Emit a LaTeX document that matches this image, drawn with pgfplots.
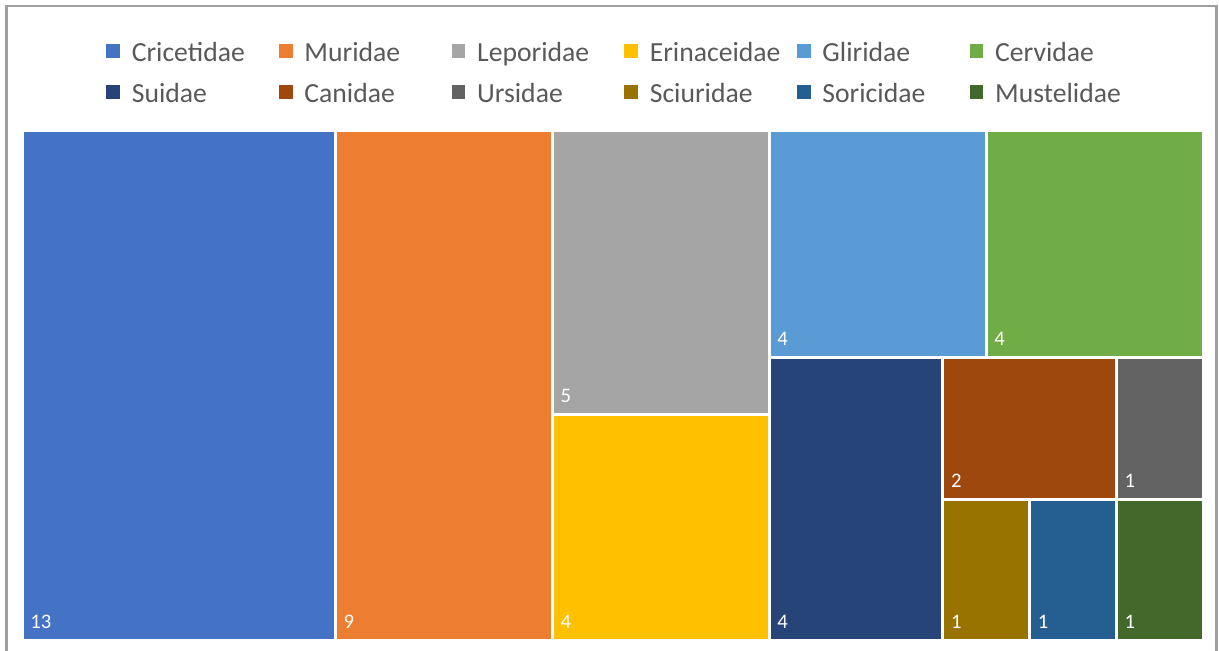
\documentclass[border=0pt]{standalone}
\usepackage{pgfplots}
\pgfplotsset{compat=1.18}
\usepackage{fontspec}
\setmainfont{Carlito}

\definecolor{cCri}{HTML}{4472C4}
\definecolor{cMur}{HTML}{ED7D31}
\definecolor{cLep}{HTML}{A5A5A5}
\definecolor{cEri}{HTML}{FFC000}
\definecolor{cGli}{HTML}{5B9BD5}
\definecolor{cCer}{HTML}{70AD47}
\definecolor{cSui}{HTML}{264478}
\definecolor{cCan}{HTML}{9E480E}
\definecolor{cUrs}{HTML}{636363}
\definecolor{cSci}{HTML}{997300}
\definecolor{cSor}{HTML}{255E91}
\definecolor{cMus}{HTML}{43682B}
\definecolor{legtext}{HTML}{595959}

% one px of the reference = 0.6pt
\begin{document}
\begin{tikzpicture}
\useasboundingbox (0,0) rectangle (731.4pt,390.6pt);
\draw[gray!75, line width=1.6pt] (3.9pt,-5pt) -- (3.9pt,387pt) -- (729.9pt,387pt) -- (729.9pt,-5pt);
\begin{axis}[
    at={(13.2pt,6pt)}, anchor=south west,
    scale only axis,
    width=708.6pt, height=306pt,
    xmin=0, xmax=1181, ymin=0, ymax=510,
    hide axis, clip=false,
    legend columns=6,
    legend cell align=left,
    legend image code/.code={
        \fill[#1, draw=none] (0pt,-1.4pt) rectangle (8.2pt,6.8pt);
        \path (14.4pt,0pt);
    },
    legend style={
        at={(0.510,1.038)}, anchor=south,
        draw=none, fill=none,
        font=\fontsize{16.6}{19}\selectfont,
        text=legtext,
        column sep=0pt, row sep=10.6pt,
        nodes={inner sep=0pt, text width=88.3pt, align=left,
               text height=11pt, text depth=3pt},
    },
]
\addplot[fill=cCri, draw=white, line width=1.8pt] coordinates {(0,0) (313.3,0) (313.3,510) (0,510)} --cycle;
\addplot[fill=cMur, draw=white, line width=1.8pt] coordinates {(313.3,0) (530.2,0) (530.2,510) (313.3,510)} --cycle;
\addplot[fill=cLep, draw=white, line width=1.8pt] coordinates {(530.2,226.7) (747.1,226.7) (747.1,510) (530.2,510)} --cycle;
\addplot[fill=cEri, draw=white, line width=1.8pt] coordinates {(530.2,0) (747.1,0) (747.1,226.7) (530.2,226.7)} --cycle;
\addplot[fill=cGli, draw=white, line width=1.8pt] coordinates {(747.1,283.3) (964.1,283.3) (964.1,510) (747.1,510)} --cycle;
\addplot[fill=cCer, draw=white, line width=1.8pt] coordinates {(964.1,283.3) (1181,283.3) (1181,510) (964.1,510)} --cycle;
\addplot[fill=cSui, draw=white, line width=1.8pt] coordinates {(747.1,0) (920.7,0) (920.7,283.3) (747.1,283.3)} --cycle;
\addplot[fill=cCan, draw=white, line width=1.8pt] coordinates {(920.7,141.7) (1094.2,141.7) (1094.2,283.3) (920.7,283.3)} --cycle;
\addplot[fill=cUrs, draw=white, line width=1.8pt] coordinates {(1094.2,141.7) (1181,141.7) (1181,283.3) (1094.2,283.3)} --cycle;
\addplot[fill=cSci, draw=white, line width=1.8pt] coordinates {(920.7,0) (1007.5,0) (1007.5,141.7) (920.7,141.7)} --cycle;
\addplot[fill=cSor, draw=white, line width=1.8pt] coordinates {(1007.5,0) (1094.2,0) (1094.2,141.7) (1007.5,141.7)} --cycle;
\addplot[fill=cMus, draw=white, line width=1.8pt] coordinates {(1094.2,0) (1181,0) (1181,141.7) (1094.2,141.7)} --cycle;
\legend{Cricetidae,Muridae,Leporidae,Erinaceidae,Gliridae,Cervidae,Suidae,Canidae,Ursidae,Sciuridae,Soricidae,Mustelidae}

\begin{scope}[every node/.style={anchor=base west, text=white, inner sep=0pt,
        font=\fontsize{12.4}{14}\selectfont, xshift=4.8pt, yshift=7.2pt}]
\node at (axis cs:0,0) {13};
\node at (axis cs:313.3,0) {9};
\node at (axis cs:530.2,226.7) {5};
\node at (axis cs:530.2,0) {4};
\node at (axis cs:747.1,283.3) {4};
\node at (axis cs:964.1,283.3) {4};
\node at (axis cs:747.1,0) {4};
\node at (axis cs:920.7,141.7) {2};
\node at (axis cs:1094.2,141.7) {1};
\node at (axis cs:920.7,0) {1};
\node at (axis cs:1007.5,0) {1};
\node at (axis cs:1094.2,0) {1};
\end{scope}
\end{axis}
\end{tikzpicture}
\end{document}
